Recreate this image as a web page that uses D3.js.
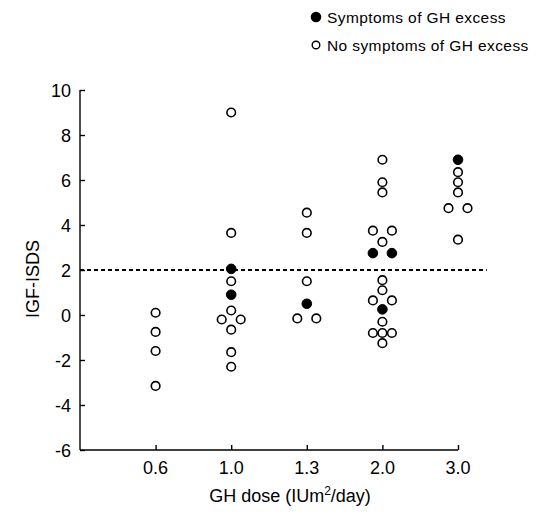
<!DOCTYPE html>
<html>
<head>
<meta charset="utf-8">
<script src="https://d3js.org/d3.v7.min.js"></script>
<style>
  html, body { margin: 0; padding: 0; background: #fff; }
  svg text { font-family: "Liberation Sans", Arial, sans-serif; fill: #000; }
</style>
</head>
<body>
<svg id="chart" width="537" height="514"></svg>
<script>
// dose categories on the x axis
const doseLabels = ["0.6", "1.0", "1.3", "2.0", "3.0"];
const yTicks = [-6, -4, -2, 0, 2, 4, 6, 8, 10];
const cutoff = 2;

// [dose, IGF-I SDS, side column (-1 left, 0 centre, 1 right)]
const noSymptoms = [
  ["0.6", 0.1, 0], ["0.6", -0.75, 0], ["0.6", -1.6, 0], ["0.6", -3.15, 0],
  ["1.0", 9.0, 0], ["1.0", 3.65, 0], ["1.0", 1.5, 0], ["1.0", 0.2, 0],
  ["1.0", -0.2, -1], ["1.0", -0.2, 1], ["1.0", -0.65, 0], ["1.0", -1.65, 0], ["1.0", -2.3, 0],
  ["1.3", 4.55, 0], ["1.3", 3.65, 0], ["1.3", 1.5, 0], ["1.3", -0.15, -1], ["1.3", -0.15, 1],
  ["2.0", 6.9, 0], ["2.0", 5.9, 0], ["2.0", 5.45, 0], ["2.0", 3.75, -1], ["2.0", 3.75, 1],
  ["2.0", 3.25, 0], ["2.0", 1.55, 0], ["2.0", 1.1, 0], ["2.0", 0.65, -1], ["2.0", 0.65, 1],
  ["2.0", -0.3, 0], ["2.0", -0.8, -1], ["2.0", -0.8, 0], ["2.0", -0.8, 1], ["2.0", -1.25, 0],
  ["3.0", 6.35, 0], ["3.0", 5.9, 0], ["3.0", 5.45, 0], ["3.0", 4.75, -1], ["3.0", 4.75, 1],
  ["3.0", 3.35, 0]
];
const symptoms = [
  ["1.0", 2.05, 0], ["1.0", 0.9, 0],
  ["1.3", 0.5, 0],
  ["2.0", 2.75, -1], ["2.0", 2.75, 1], ["2.0", 0.25, 0],
  ["3.0", 6.9, 0]
];
const legendItems = ["Symptoms of GH excess", "No symptoms of GH excess"];

const svg = d3.select("#chart");

const x = d3.scaleLinear().domain([0, doseLabels.length]).range([80, 458]);
const y = d3.scaleLinear().domain([-6, 10]).range([450, 90]);
const side = d3.scaleLinear().domain([-1, 1]).range([-9.5, 9.5]);
const px = d => x(doseLabels.indexOf(d[0]) + 1) + side(d[2]);

// y axis, ticks pointing inwards
const yAxis = svg.append("g").attr("transform", "translate(80,0)")
  .call(d3.axisRight(y).tickValues(yTicks).tickSize(5).tickFormat(""));
yAxis.select(".domain").attr("d", `M0,${y(10)}V${y(-6)}`);
yAxis.selectAll("line, path").attr("stroke", "#000").attr("stroke-width", 1.4);

svg.append("g").selectAll("text").data(yTicks).join("text")
  .attr("x", 71).attr("y", d => y(d) + 6.5)
  .attr("text-anchor", "end").attr("font-size", 18)
  .text(d => d);

// x axis, ticks pointing upwards
const xAxis = svg.append("g").attr("transform", "translate(0,450)")
  .call(d3.axisTop(x).tickValues(d3.range(1, doseLabels.length + 1)).tickSize(5).tickFormat(""));
xAxis.select(".domain").attr("d", `M${x(0)},0H${x(doseLabels.length)}`);
xAxis.selectAll("line, path").attr("stroke", "#000").attr("stroke-width", 1.4);

svg.append("g").selectAll("text").data(doseLabels).join("text")
  .attr("x", (d, i) => x(i + 1)).attr("y", 474)
  .attr("text-anchor", "middle").attr("font-size", 18)
  .text(d => d);

// axis titles
const xt = svg.append("text").attr("x", 290).attr("y", 502)
  .attr("text-anchor", "middle").attr("font-size", 18);
xt.append("tspan").text("GH dose (IUm");
xt.append("tspan").attr("dy", -7).attr("font-size", 12).text("2");
xt.append("tspan").attr("dy", 7).text("/day)");

svg.append("text").attr("transform", `translate(39,${y(1.6)}) rotate(-90)`)
  .attr("text-anchor", "middle").attr("font-size", 18)
  .text("IGF-ISDS");

// cutoff line at IGF-I SDS = 2
svg.append("line")
  .attr("x1", x(0)).attr("x2", x(5.38))
  .attr("y1", y(cutoff)).attr("y2", y(cutoff))
  .attr("stroke", "#000").attr("stroke-width", 2)
  .attr("stroke-dasharray", "4,3");

// points
svg.append("g").selectAll("circle").data(noSymptoms).join("circle")
  .attr("cx", px).attr("cy", d => y(d[1])).attr("r", 4.3)
  .attr("fill", "#fff").attr("stroke", "#000").attr("stroke-width", 1.6);

svg.append("g").selectAll("circle").data(symptoms).join("circle")
  .attr("cx", px).attr("cy", d => y(d[1])).attr("r", 4.8)
  .attr("fill", "#000").attr("stroke", "#000").attr("stroke-width", 1);

// legend
const legend = svg.append("g").selectAll("g").data(legendItems).join("g")
  .attr("transform", (d, i) => `translate(316,${17 + i * 28})`);
legend.append("circle").attr("r", (d, i) => i === 0 ? 4.6 : 3.8)
  .attr("fill", (d, i) => i === 0 ? "#000" : "#fff")
  .attr("stroke", "#000").attr("stroke-width", 1.4);
legend.append("text").attr("x", 11).attr("y", 5.5).attr("font-size", 15.5)
  .attr("letter-spacing", 0.4).text(d => d);
</script>
</body>
</html>
